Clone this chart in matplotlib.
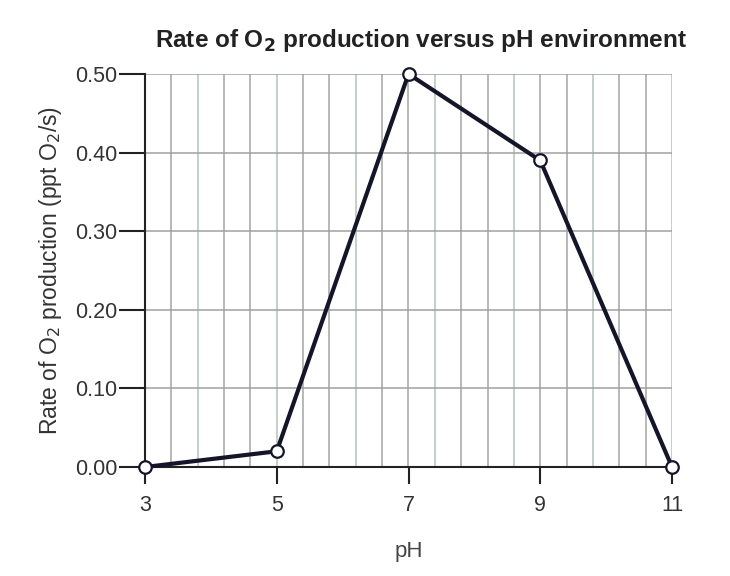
import matplotlib
matplotlib.use("Agg")
import matplotlib.pyplot as plt
import numpy as np

ph = [3, 5, 7, 9, 11]
rate = [0.00, 0.02, 0.50, 0.39, 0.00]
xticks = [3, 5, 7, 9, 11]
yticks = [0.00, 0.10, 0.20, 0.30, 0.40, 0.50]
ytick_labels = ["0.00", "0.10", "0.20", "0.30", "0.40", "0.50"]

plt.rcParams['font.family'] = ['Liberation Sans', 'DejaVu Sans']

fig = plt.figure(figsize=(7.3, 5.76), dpi=100)
ax = fig.add_axes([145/730, 1-467/576, (672-145)/730, (467-74)/576])

ax.set_xlim(3, 11)
ax.set_ylim(0, 0.5)

# vertical grid every 0.4 pH
for i, xv in enumerate(np.arange(3.4, 11.01, 0.4)):
    col = '#b3c2b8' if i % 3 == 1 else '#a4a4a4'
    ax.axvline(xv, color=col, lw=1.1, zorder=1)
for yv in yticks[1:]:
    ax.axhline(yv, color='#a0a0a0', lw=1.1, zorder=1)

ax.plot(ph, rate, color='#15152a', lw=3, zorder=3,
        marker='o', markersize=9, markerfacecolor='white',
        markeredgecolor='#15152a', markeredgewidth=1.6, clip_on=False)

for s in ['top', 'right']:
    ax.spines[s].set_visible(False)
for s in ['left', 'bottom']:
    ax.spines[s].set_color('#222222')
    ax.spines[s].set_linewidth(1.5)

ax.set_xticks(xticks)
ax.set_xticklabels([str(x) for x in xticks])
ax.set_yticks(yticks)
ax.set_yticklabels(ytick_labels)
ax.tick_params(axis='y', length=19, width=1.5, color='#222222', labelsize=15.5,
               labelcolor='#333333', pad=1)
ax.tick_params(axis='x', length=12, width=1.5, color='#222222', labelsize=15.5,
               labelcolor='#333333', pad=8)

ax.set_xlabel("pH", fontsize=16, color='#444444', labelpad=18)
ax.set_ylabel("Rate of O$_2$ production (ppt O$_2$/s)", fontsize=16.5, color='#333333',
              labelpad=8)
fig.text(421/730, 1-40/576, "Rate of O$_{\\mathbf{2}}$ production versus pH environment",
         ha='center', va='center', fontsize=17.5, fontweight='bold', color='#222222')

fig.savefig("out.png", dpi=100)
